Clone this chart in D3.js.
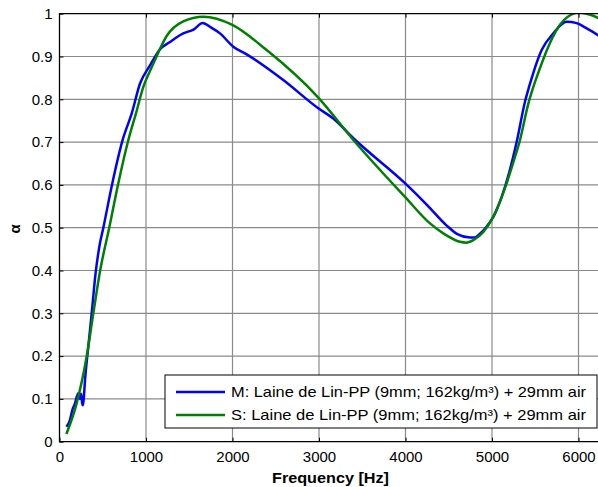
<!DOCTYPE html>
<html>
<head>
<meta charset="utf-8">
<script src="https://cdn.jsdelivr.net/npm/d3@7"></script>
<style>
  body { margin: 0; background: #fff; }
  svg { display: block; font-family: Arial, "Liberation Sans", sans-serif; }
</style>
</head>
<body>
<div id="chart"></div>
<script>
// measured (M) curve
const freqM = [80, 120, 150, 180, 200, 217, 235, 250, 262, 270, 280, 295, 333, 372, 418, 460, 507, 611, 730, 835, 931, 1046,
  1162, 1277, 1431, 1550, 1655, 1750, 1855, 2009, 2164, 2587, 2992, 3165, 3397, 3994, 4250, 4476, 4600, 4746, 4800,
  4861, 4939, 5015, 5112, 5200, 5285, 5382, 5430, 5478, 5574, 5709, 5863, 5979, 6100, 6225, 6300];
const alphaM = [0.035, 0.05, 0.075, 0.09, 0.105, 0.113, 0.10, 0.112, 0.09, 0.085, 0.10, 0.144, 0.222, 0.30, 0.395, 0.455, 0.50, 0.604, 0.705, 0.767, 0.837, 0.879,
  0.917, 0.934, 0.954, 0.963, 0.978, 0.968, 0.954, 0.923, 0.905, 0.845, 0.779, 0.755, 0.709, 0.604, 0.553, 0.505, 0.485, 0.477, 0.477,
  0.486, 0.503, 0.525, 0.572, 0.63, 0.70, 0.795, 0.83, 0.862, 0.915, 0.954, 0.981, 0.978, 0.965, 0.950, 0.94];

// simulated (S) curve
const freqS = [80, 199, 314, 391, 470, 575, 680, 796, 884, 969, 1046, 1104, 1239, 1431, 1662, 1998, 2395, 2992, 3397,
  3994, 4283, 4450, 4630, 4700, 4784, 4900, 5015, 5100, 5170, 5250, 5324, 5420, 5480, 5535, 5651, 5786, 5940, 6000, 6094, 6225, 6300];
const alphaS = [0.018, 0.09, 0.199, 0.30, 0.40, 0.50, 0.604, 0.705, 0.767, 0.829, 0.866, 0.892, 0.948, 0.982, 0.993, 0.974, 0.915, 0.804, 0.705,
  0.572, 0.51, 0.485, 0.467, 0.465, 0.471, 0.49, 0.526, 0.565, 0.604, 0.655, 0.705, 0.79, 0.83, 0.862, 0.923, 0.974, 1.0, 1.003, 1.0, 0.99, 0.98];

const xTicks = [0, 1000, 2000, 3000, 4000, 5000, 6000];
const yTicks = [0, 0.1, 0.2, 0.3, 0.4, 0.5, 0.6, 0.7, 0.8, 0.9, 1];
const seriesNames = ['M: Laine de Lin-PP (9mm; 162kg/m³) + 29mm air', 'S: Laine de Lin-PP (9mm; 162kg/m³) + 29mm air'];
const seriesColors = ['#0000ff', '#008000'];

const W = 598;
const H = 487;
const margin = { top: 13.7, left: 59.5 };
const plotW = 6500 * 0.0865;
const plotH = 428;

const x = d3.scaleLinear().domain([0, 6500]).range([0, plotW]);
const y = d3.scaleLinear().domain([0, 1]).range([plotH, 0]);

const svg = d3.select('#chart').append('svg')
  .attr('width', W)
  .attr('height', H);

const g = svg.append('g')
  .attr('transform', `translate(${margin.left},${margin.top})`);

g.append('clipPath').attr('id', 'clip')
  .append('rect').attr('width', plotW).attr('height', plotH);

// grid
g.append('g').selectAll('line.gx')
  .data(xTicks.slice(1))
  .enter().append('line')
  .attr('x1', (d) => x(d)).attr('x2', (d) => x(d))
  .attr('y1', 0).attr('y2', plotH)
  .style('stroke', '#8a8a8a').style('stroke-width', 1.2);
g.append('g').selectAll('line.gy')
  .data(yTicks.slice(1, -1))
  .enter().append('line')
  .attr('y1', (d) => y(d)).attr('y2', (d) => y(d))
  .attr('x1', 0).attr('x2', plotW)
  .style('stroke', '#8a8a8a').style('stroke-width', 1.2);

// curves
const line = d3.line()
  .x((d) => x(d[0]))
  .y((d) => y(d[1]))
  .curve(d3.curveMonotoneX);

const series = [d3.zip(freqM, alphaM), d3.zip(freqS, alphaS)];
g.append('g').attr('clip-path', 'url(#clip)')
  .selectAll('path')
  .data(series)
  .enter().append('path')
  .attr('d', line)
  .style('fill', 'none')
  .style('stroke', (d, i) => seriesColors[i])
  .style('stroke-width', 2.5)
  .style('stroke-linejoin', 'round');

// frame
g.append('path')
  .attr('d', `M${plotW},0H0V${plotH}H${plotW}`)
  .style('fill', 'none').style('stroke', '#000').style('stroke-width', 1.3);

// axes (ticks inward)
g.append('g')
  .attr('transform', `translate(0,${plotH})`)
  .call(d3.axisBottom(x).tickValues(xTicks).tickSizeInner(-4).tickSizeOuter(0).tickPadding(10).tickFormat(d3.format('d')))
  .call((a) => a.select('.domain').remove())
  .style('font-size', '15px')
  .style('font-family', 'Arial, "Liberation Sans", sans-serif')
  .style('color', '#000');
g.append('g')
  .call(d3.axisTop(x).tickValues(xTicks.slice(1)).tickSizeInner(-4).tickSizeOuter(0).tickFormat(''))
  .call((a) => a.select('.domain').remove());
g.append('g')
  .call(d3.axisLeft(y).tickValues(yTicks).tickSizeInner(-4).tickSizeOuter(0).tickPadding(7).tickFormat((d) => d3.format('~g')(d)))
  .call((a) => a.select('.domain').remove())
  .style('font-size', '15px')
  .style('font-family', 'Arial, "Liberation Sans", sans-serif')
  .style('color', '#000');

// axis labels
svg.append('text')
  .attr('x', 272).attr('y', 483)
  .attr('textLength', 117).attr('lengthAdjust', 'spacingAndGlyphs')
  .style('font-size', '14.5px').style('font-weight', 'bold')
  .text('Frequency [Hz]');
svg.append('text')
  .attr('transform', 'translate(20,229) rotate(-90)')
  .attr('text-anchor', 'middle')
  .style('font-size', '15px').style('font-weight', 'bold')
  .text('α');

// legend
const legend = svg.append('g').attr('transform', 'translate(165,375)');
legend.append('rect')
  .attr('width', 432).attr('height', 53)
  .style('fill', '#fff').style('stroke', '#000').style('stroke-width', 1);
const rows = legend.selectAll('g.row')
  .data(seriesNames)
  .enter().append('g')
  .attr('transform', (d, i) => `translate(0,${17 + i * 23})`);
rows.append('line')
  .attr('x1', 11).attr('x2', 60)
  .style('stroke', (d, i) => seriesColors[i])
  .style('stroke-width', 2.5);
rows.append('text')
  .attr('x', 66).attr('dy', '0.35em')
  .attr('textLength', 355).attr('lengthAdjust', 'spacingAndGlyphs')
  .style('font-size', '14.5px')
  .text((d) => d);
</script>
</body>
</html>
